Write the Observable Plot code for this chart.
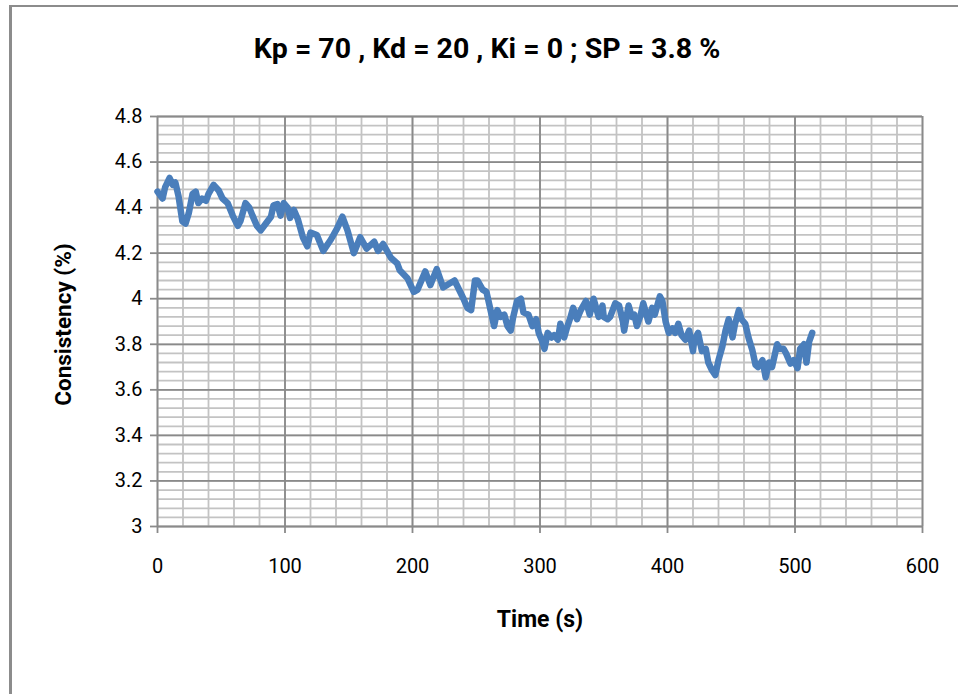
<!DOCTYPE html>
<html>
<head>
<meta charset="utf-8">
<script src="https://cdn.jsdelivr.net/npm/d3@7"></script>
<script src="https://cdn.jsdelivr.net/npm/@observablehq/plot@0.6"></script>
<style>
  html, body { margin: 0; padding: 0; background: #fff; }
  body { width: 958px; height: 694px; overflow: hidden; position: relative; font-family: Roboto, "Open Sans", sans-serif; }
  #frame { position: absolute; left: 9px; top: 5px; width: 1000px; height: 800px; border-left: 3px solid #8c8c8c; border-top: 2px solid #8c8c8c; box-sizing: border-box; }
  #title { position: absolute; left: 0; top: 0; width: 974px; height: 90px; text-align: center; line-height: 98px; font-weight: bold; font-size: 28.5px; color: #000; }
  #chart { position: absolute; left: 0; top: 80px; }
</style>
</head>
<body>
<div id="frame"></div>
<div id="title">Kp = 70 , Kd = 20 , Ki = 0 ; SP = 3.8 %</div>
<div id="chart"></div>
<script>
// time (s)
const time = [0,4,6,9.5,12,14,16.5,19.5,22,24.5,27.5,30,32,35,38,40,44,48,51,55,59,63,65,69,72,74.5,78,81,85,89,91,94,96.5,99,102,104,107,110,114,117.5,120,
  125,130,136,141,145,149,154,159,164,170,173,177,183,188,190,196,201,204,210,214,219,224,230,233,240,243,246,249,251,255,258,260,264,266.5,269,272,274.5,277,279,282,285,287,291,294,297,299,302,303.5,306,309,311,314,316,319,321,324,326,329,332,336,339,342,346,349,350,353,355,359,362,365,366,369.5,372,374,376,379,381,385,388,390,394,396,398.5,401,404,406,408.5,411,414,417,420,421,424,427,430,432,435,437.5,440,443,445.5,448,451,453,456,458,461,463.5,466.5,469,471,474.5,477,479.5,482,486,488,491,493,496.5,499,502,504,507,509,511,513.5];
// consistency (%)
const consistency = [4.47,4.44,4.49,4.53,4.50,4.51,4.45,4.34,4.33,4.375,4.46,4.47,4.42,4.44,4.43,4.46,4.50,4.475,4.44,4.42,4.365,4.32,4.34,4.42,4.40,4.365,4.32,4.30,4.33,4.36,4.41,4.415,4.365,4.42,4.40,4.355,4.39,4.35,4.27,4.23,4.29,
  4.28,4.21,4.26,4.31,4.36,4.30,4.20,4.27,4.22,4.25,4.21,4.24,4.18,4.155,4.125,4.09,4.03,4.04,4.12,4.06,4.13,4.05,4.07,4.08,4.00,3.96,3.95,4.08,4.08,4.04,4.03,3.98,3.88,3.95,3.92,3.93,3.88,3.86,3.92,3.99,4.00,3.94,3.93,3.88,3.91,3.85,3.81,3.78,3.85,3.83,3.84,3.82,3.89,3.83,3.87,3.92,3.96,3.91,3.95,3.99,3.93,4.00,3.92,3.97,3.92,3.91,3.92,3.98,3.97,3.90,3.86,3.97,3.92,3.93,3.88,3.93,3.98,3.90,3.96,3.93,4.01,3.99,3.90,3.85,3.87,3.85,3.89,3.84,3.82,3.86,3.77,3.82,3.85,3.77,3.78,3.72,3.685,3.665,3.73,3.79,3.86,3.91,3.83,3.89,3.95,3.91,3.89,3.83,3.775,3.71,3.70,3.73,3.655,3.72,3.70,3.80,3.78,3.78,3.76,3.715,3.73,3.695,3.78,3.80,3.72,3.81,3.85];

const xTicks = [0, 100, 200, 300, 400, 500, 600];
const yTicks = [3, 3.2, 3.4, 3.6, 3.8, 4, 4.2, 4.4, 4.6, 4.8];
const yTickLabels = ["3", "3.2", "3.4", "3.6", "3.8", "4", "4.2", "4.4", "4.6", "4.8"];
const xMinor = d3.range(0, 31).map(i => i * 20);
const yMinor = d3.range(0, 46).map(i => +(3 + i * 0.04).toFixed(2));

const data = time.map((t, i) => ({t, v: consistency[i]}));

const chart = Plot.plot({
  width: 958,
  height: 614,
  marginLeft: 157,
  marginRight: 36,
  marginTop: 36,
  marginBottom: 168,
  style: {fontFamily: "Roboto, sans-serif", fontSize: "20px", color: "#000", background: "transparent"},
  x: {domain: [0, 600]},
  y: {domain: [3, 4.8]},
  marks: [
    Plot.ruleX(xMinor, {stroke: "#c3c3c3", strokeWidth: 1.8}),
    Plot.ruleY(yMinor, {stroke: "#c3c3c3", strokeWidth: 1.8}),
    Plot.ruleX(xTicks, {stroke: "#8a8a8a", strokeWidth: 1.8}),
    Plot.ruleY(yTicks, {stroke: "#8a8a8a", strokeWidth: 1.8}),
    Plot.axisY({ticks: yTicks, tickFormat: d => yTickLabels[yTicks.indexOf(d)], tickSize: 7, tickPadding: 8, stroke: "#8a8a8a", strokeWidth: 1.8, label: null, fontSize: 20}),
    Plot.axisX({ticks: xTicks, tickFormat: d => String(d), tickSize: 7, tickPadding: 25, stroke: "#8a8a8a", strokeWidth: 1.8, label: null, fontSize: 20}),
    Plot.line(data, {x: "t", y: "v", stroke: "#4a7ebb", strokeWidth: 6.5, strokeLinejoin: "round", strokeLinecap: "round"}),
    Plot.text(["Consistency (%)"], {frameAnchor: "left", textAnchor: "middle", dx: -94, dy: 3, rotate: -90, fontWeight: "bold", fontSize: 22.5, fill: "#000"}),
    Plot.text(["Time (s)"], {frameAnchor: "bottom", textAnchor: "middle", dy: 100, fontWeight: "bold", fontSize: 23, fill: "#000"})
  ]
});
document.getElementById("chart").appendChild(chart);
</script>
</body>
</html>
